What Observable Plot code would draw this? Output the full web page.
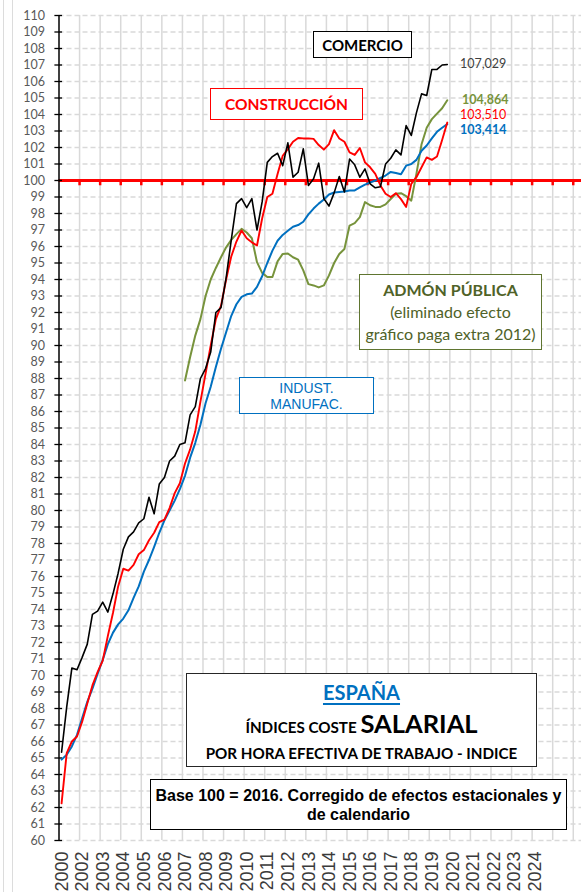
<!DOCTYPE html>
<html><head><meta charset="utf-8">
<script src="https://cdn.jsdelivr.net/npm/d3@7"></script>
<script src="https://cdn.jsdelivr.net/npm/@observablehq/plot@0.6"></script>
<style>
body{margin:0;background:#fff;}
#wrap{position:relative;width:587px;height:892px;overflow:hidden;font-family:Lato,sans-serif;background:#fff;}
#chart{position:absolute;left:0;top:0;}
.box{position:absolute;box-sizing:border-box;background:#fff;display:flex;flex-direction:column;align-items:center;justify-content:center;text-align:center;white-space:nowrap;}
.end{position:absolute;font-family:Lato,sans-serif;font-size:12.5px;line-height:14px;white-space:nowrap;}
.edge{position:absolute;top:0;width:1px;height:892px;background:#dcdcdc;}
</style></head><body>
<div id="wrap">
<div class="edge" style="left:3px"></div>
<div class="edge" style="left:12px"></div>
<div id="chart"></div>
<div class="box" style="left:313px;top:31px;width:99px;height:27px;border:1.5px solid #000;font-weight:700;font-size:15px;color:#000;">COMERCIO</div>
<div class="box" style="left:210px;top:88px;width:153px;height:32px;border:1.5px solid #ff0000;font-weight:700;font-size:15.5px;color:#ff0000;">CONSTRUCCIÓN</div>
<div class="box" style="left:359px;top:274px;width:183px;height:76px;border:1.5px solid #5f7530;color:#4f6228;font-size:16px;line-height:22px;">
  <div style="font-weight:700;">ADMÓN PÚBLICA</div>
  <div>(eliminado efecto</div>
  <div>gráfico paga extra 2012)</div>
</div>
<div class="box" style="left:239px;top:377px;width:135px;height:37px;border:1.5px solid #0070c0;color:#0070c0;font-family:'Liberation Sans',Arial,sans-serif;font-size:14px;line-height:16px;">
  <div>INDUST.</div><div>MANUFAC.</div>
</div>
<div class="box" style="left:186px;top:673px;width:351px;height:94px;border:1.5px solid #262626;display:block;">
  <div style="position:absolute;left:0;right:0;top:8px;font-weight:700;font-size:20px;line-height:20px;color:#0070c0;text-decoration:underline;text-decoration-thickness:2px;text-underline-offset:3px;">ESPAÑA</div>
  <div style="position:absolute;left:0;right:0;top:36px;font-weight:700;line-height:26px;color:#000;"><span style="font-size:15.2px;">ÍNDICES COSTE </span><span style="font-size:25.5px;">SALARIAL</span></div>
  <div style="position:absolute;left:0;right:0;top:71px;font-weight:700;font-size:15.2px;line-height:16px;color:#000;">POR HORA EFECTIVA DE TRABAJO - INDICE</div>
</div>
<div class="box" style="left:150px;top:779px;width:417px;height:51px;border:1.5px solid #000;font-family:'Liberation Sans',Arial,sans-serif;font-weight:700;font-size:16px;line-height:19px;color:#000;">
  <div>Base 100 = 2016. Corregido de efectos estacionales y</div><div>de calendario</div>
</div>
<div class="end" style="left:460px;top:57px;color:#404040;">107,029</div>
<div class="end" style="left:462px;top:93px;color:#77933c;font-weight:700;">104,864</div>
<div class="end" style="left:460px;top:108px;color:#ff0000;">103,510</div>
<div class="end" style="left:460px;top:123px;color:#0070c0;font-weight:700;">103,414</div>
</div>
<script>
// Tick labels of the x axis as printed (one per vertical gridline)
const xTickLabels = ["2000","2002","2003","2004","2005","2006","2007","2008","2009","2010","2011","2012","2013","2014","2015","2016","2017","2018","2019","2020","2021","2022","2023","2024"];
const yTicks = d3.range(60, 111);

// Quarterly index values (76 quarters)
const comercio = [65.35,68.1,70.45,70.35,71.1,71.9,73.7,73.9,74.45,73.84,74.95,76.2,77.65,78.4,78.7,79.25,79.5,80.8,79.8,81.6,82.0,83.0,83.3,84.0,84.1,85.8,86.3,88.0,88.6,89.6,92.0,92.3,94.1,96.4,98.6,98.9,98.35,98.9,97.0,98.7,101.1,101.45,101.65,100.9,102.28,100.2,100.5,101.92,99.7,100.1,101.05,98.9,98.45,99.25,100.24,99.3,101.3,100.95,100.2,100.7,99.8,99.56,99.62,101.0,101.35,101.86,101.55,103.33,102.73,104.1,105.25,105.15,106.73,106.73,107.0,107.029];
const construccion = [62.25,65.3,66.0,66.3,67.2,68.3,69.4,70.2,70.9,72.4,73.8,75.4,76.47,76.36,76.7,77.35,77.6,78.2,78.65,79.3,79.45,80.15,81.05,81.65,82.85,83.7,84.8,86.6,88.3,90.0,91.6,92.4,94.0,95.4,96.3,96.97,96.5,96.25,96.06,97.7,99.0,99.2,100.4,101.5,101.9,102.35,102.58,102.55,102.55,102.52,102.15,101.87,102.2,103.05,102.55,102.35,101.7,101.55,101.97,101.1,100.8,100.4,99.7,99.2,99.0,99.23,98.87,98.4,99.8,100.2,100.8,101.4,101.25,101.45,102.45,103.51];
const industria = [64.9,65.2,65.7,66.4,67.4,68.4,69.2,70.1,70.95,71.9,72.6,73.1,73.45,73.95,74.7,75.4,76.3,77.0,77.8,78.65,79.4,80.0,80.6,81.3,82.1,83.2,84.1,85.2,86.5,87.5,88.7,89.8,90.8,91.8,92.5,92.95,93.1,93.15,93.55,94.2,95.0,95.75,96.35,96.7,96.95,97.2,97.3,97.5,97.95,98.3,98.6,98.85,99.15,99.27,99.3,99.33,99.4,99.4,99.58,99.75,99.88,100.0,100.15,100.3,100.52,100.45,100.38,100.9,101.0,101.25,101.8,102.12,102.55,102.95,103.2,103.414];
// Administración pública starts at quarter 24
const admonStart = 24;
const admon = [87.88,89.3,90.6,91.6,93.0,94.0,94.7,95.35,95.95,96.4,96.75,97.07,96.85,96.5,95.05,94.4,94.15,94.15,95.1,95.55,95.58,95.35,95.2,94.55,93.72,93.64,93.52,93.64,94.25,95.0,95.55,95.85,97.27,97.42,97.78,98.69,98.5,98.4,98.4,98.55,98.88,99.2,99.23,99.05,98.78,100.4,102.2,103.2,103.72,104.05,104.38,104.864];

const q = i => (i + 0.5) / 4; // quarter position in gridline (year) units
const rows = (arr, start = 0) => arr.map((v, i) => ({t: q(i + start), v}));

const chart = Plot.plot({
  width: 587, height: 892,
  marginLeft: 58.5, marginRight: 6, marginTop: 15, marginBottom: 52,
  style: {background: "transparent", overflow: "visible"},
  x: {domain: [0, 25.4], axis: null},
  y: {domain: [60, 110], axis: null},
  marks: [
    Plot.ruleY(yTicks, {stroke: "#d9d9d9", strokeWidth: 1.3, strokeDasharray: "5,3"}),
    Plot.ruleX(d3.range(1, 26), {stroke: "#d9d9d9", strokeWidth: 1.5}),
    Plot.ruleY([100], {stroke: "#ff0000", strokeWidth: 3}),
    Plot.ruleX(d3.range(1, 26), {x: d => d, y1: 100, y2: 99.68, stroke: "#ff0000", strokeWidth: 2.5}),
    Plot.ruleX([0], {stroke: "#000", strokeWidth: 1.5}),
    Plot.ruleY(yTicks, {y: d => d, x1: -0.2, x2: 0.17, stroke: "#000", strokeWidth: 1.3}),
    Plot.text(yTicks, {x: 0, y: d => d, text: d => String(d), textAnchor: "end", dx: -14, fill: "#595959", fontSize: 12.5, fontFamily: "Lato"}),
    Plot.text(xTickLabels, {x: (d, i) => i, y: 60, text: d => d, rotate: -90, textAnchor: "end", dy: 11, dx: 3, fill: "#3a3a3a", fontSize: 18, fontFamily: "Liberation Sans"}),
    Plot.line(rows(admon, admonStart), {x: "t", y: "v", stroke: "#77933c", strokeWidth: 2}),
    Plot.line(rows(industria), {x: "t", y: "v", stroke: "#0070c0", strokeWidth: 2}),
    Plot.line(rows(construccion), {x: "t", y: "v", stroke: "#ff0000", strokeWidth: 1.9}),
    Plot.line(rows(comercio), {x: "t", y: "v", stroke: "#000", strokeWidth: 1.6})
  ]
});
document.getElementById("chart").appendChild(chart);
</script>
</body></html>
